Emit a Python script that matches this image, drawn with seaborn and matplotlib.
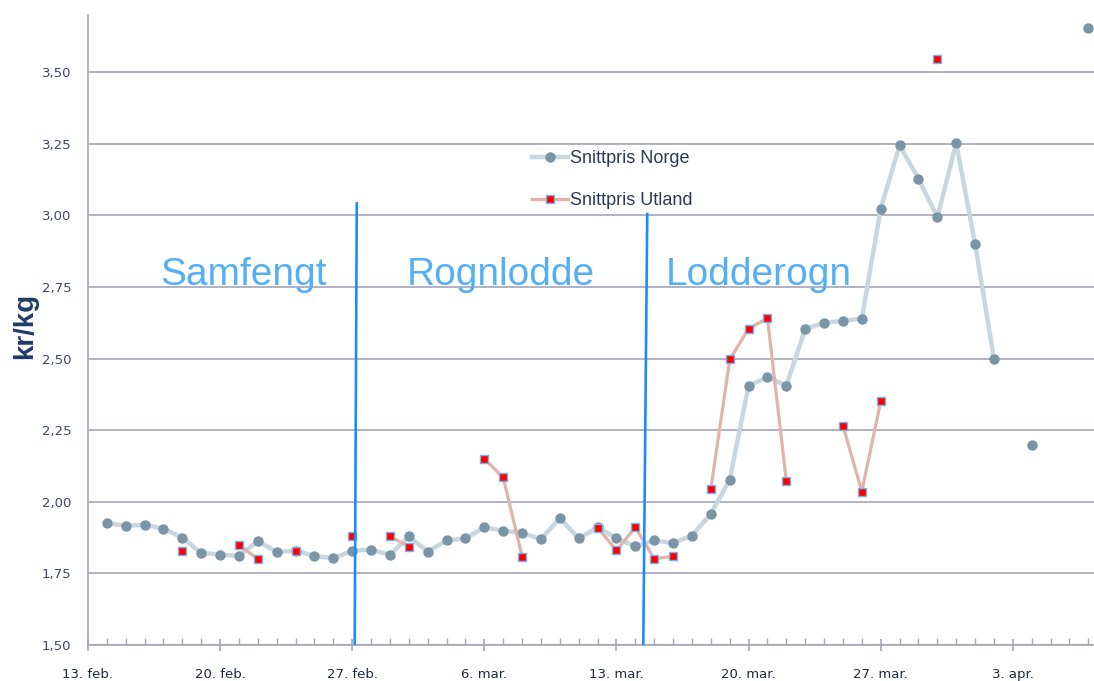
import numpy as np
import pandas as pd
import seaborn as sns
import matplotlib
matplotlib.use("Agg")
import matplotlib.pyplot as plt
import matplotlib.dates as mdates
from matplotlib.lines import Line2D
from matplotlib.ticker import FuncFormatter, FixedLocator

# Data: daglige snittpriser, 14. feb. - 7. apr.
start_dato = "2013-02-14"
norge = [1.926, 1.916, 1.920, 1.906, 1.875, 1.821, 1.816, 1.811, 1.863, 1.825,
         1.829, 1.811, 1.803, 1.829, 1.833, 1.815, 1.879, 1.826, 1.865, 1.872,
         1.911, 1.899, 1.891, 1.870, 1.943, 1.872, 1.911, 1.873, 1.844, 1.865,
         1.856, 1.882, 1.958, 2.077, 2.406, 2.435, 2.406, 2.604, 2.625, 2.632,
         2.640, 3.024, 3.245, 3.128, 2.994, 3.252, 2.900, 2.500, None, 2.198,
         None, None, 3.653]
utland = [None, None, None, None, 1.829, None, None, 1.850, 1.800, None,
          1.829, None, None, 1.881, None, 1.881, 1.842, None, None, None,
          2.150, 2.085, 1.809, None, None, None, 1.910, 1.830, 1.911, 1.801,
          1.810, None, 2.044, 2.497, 2.605, 2.641, 2.072, None, None, 2.266,
          2.036, 2.351, None, None, 3.545, None, None, None, None, None,
          None, None, None]
perioder = ["Samfengt", "Rognlodde", "Lodderogn"]
maaneder = ["jan.", "feb.", "mar.", "apr.", "mai", "jun.",
            "jul.", "aug.", "sep.", "okt.", "nov.", "des."]
yticks = [1.50, 1.75, 2.00, 2.25, 2.50, 2.75, 3.00, 3.25, 3.50]

datoer = pd.date_range(start_dato, periods=len(norge), freq="D")
df = pd.DataFrame({"dato": datoer,
                   "norge": pd.array(norge, dtype="float"),
                   "utland": pd.array(utland, dtype="float")})
# segment-id slik at linjene brytes ved manglende verdier
df["seg_n"] = df["norge"].isna().cumsum()
df["seg_u"] = df["utland"].isna().cumsum()

fig = plt.figure(figsize=(10.94, 6.81), dpi=100)
ax = fig.add_axes([88 / 1094, 36 / 681, 1006 / 1094, 630 / 681])

c_norge_l, c_norge_m = "#c8d6df", "#7a95a5"
c_utl_l = "#e2b2ac"

sns.lineplot(data=df.dropna(subset=["norge"]), x="dato", y="norge",
             units="seg_n", estimator=None, ax=ax, color=c_norge_l, lw=3.2,
             marker="o", markersize=7.5, markerfacecolor=c_norge_m,
             markeredgecolor=c_norge_m, markeredgewidth=0, zorder=3)
sns.lineplot(data=df.dropna(subset=["utland"]), x="dato", y="utland",
             units="seg_u", estimator=None, ax=ax, color=c_utl_l, lw=2.3,
             marker="s", markersize=5.5, markerfacecolor="#ff0000",
             markeredgecolor="#74b4f0", markeredgewidth=1.0, zorder=4)

x0 = mdates.date2num(pd.Timestamp("2013-02-13"))
ax.set_xlim(x0, x0 + 53.3)
ax.set_ylim(1.5, 3.70)

# vertikale skillelinjer og periodetekster
ax.plot([x0 + 14.13, x0 + 14.24], [1.5, 3.042], color="#1a8cff", lw=1.9, zorder=5)
ax.plot([x0 + 29.42, x0 + 29.63], [1.5, 3.005], color="#1a8cff", lw=1.9, zorder=5)
for navn, dx in zip(perioder, [8.25, 21.85, 35.55]):
    ax.text(x0 + dx, 2.756, navn, ha="center", va="baseline", fontsize=28,
            color="#55aff5", family="Liberation Sans")

# akser
ax.set_yticks(yticks)
ax.yaxis.set_major_formatter(FuncFormatter(lambda v, p: f"{v:.2f}".replace(".", ",")))
ax.grid(axis="y", color="#a3a6bb", lw=1.2)
ax.grid(axis="x", visible=False)
ax.set_axisbelow(True)
ax.xaxis.set_major_locator(FixedLocator([x0 + 7 * i for i in range(8)]))
ax.xaxis.set_minor_locator(FixedLocator([x0 + i for i in range(54)]))
ax.xaxis.set_major_formatter(FuncFormatter(
    lambda v, p: f"{mdates.num2date(v).day}. {maaneder[mdates.num2date(v).month - 1]}"))
ax.tick_params(axis="y", length=0, pad=12, labelsize=9.5, labelcolor="#3d4a68")
ax.tick_params(axis="x", which="major", direction="inout", length=9, width=1.2,
               color="#a3a6bb", pad=12, labelsize=9.5, labelcolor="#1e2a40")
ax.tick_params(axis="x", which="minor", direction="in", length=5, width=1.0,
               color="#a3a6bb")
for s in ["top", "right"]:
    ax.spines[s].set_visible(False)
for s in ["left", "bottom"]:
    ax.spines[s].set_color("#a3a6bb")
    ax.spines[s].set_linewidth(1.2)
ax.set_xlabel("")
ax.set_ylabel("kr/kg", fontsize=20, fontweight="bold", color="#1f3b66",
              family="Liberation Sans")
ax.yaxis.set_label_coords(-0.050, 0.506)

handles = [Line2D([], [], color=c_norge_l, lw=3.2, marker="o", markersize=7.5,
                  markerfacecolor=c_norge_m, markeredgewidth=0),
           Line2D([], [], color=c_utl_l, lw=2.3, marker="s", markersize=5.5,
                  markerfacecolor="#ff0000", markeredgecolor="#74b4f0")]
ax.legend(handles, ["Snittpris Norge", "Snittpris Utland"], loc="upper left",
          bbox_to_anchor=(0.441, 0.786), frameon=False, borderpad=0,
          borderaxespad=0, handlelength=2.0, handletextpad=0.1,
          labelspacing=1.4, prop={"family": "Liberation Sans", "size": 13},
          labelcolor="#2b3a58")

fig.savefig("out.png", dpi=100)
